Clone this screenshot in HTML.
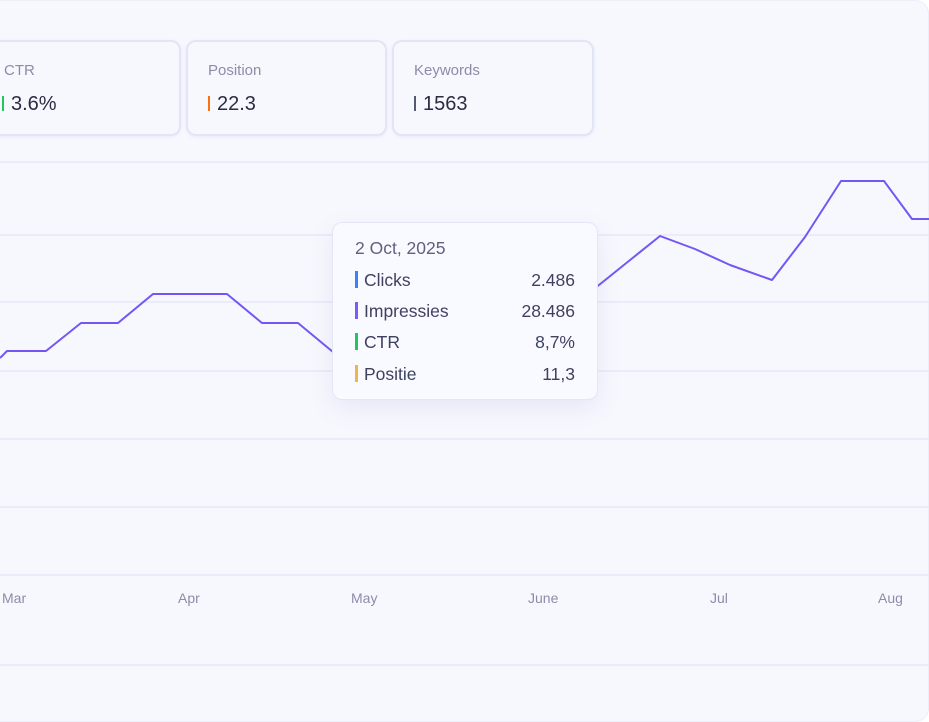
<!DOCTYPE html>
<html><head><meta charset="utf-8"><style>
body{margin:0;width:929px;height:722px;overflow:hidden;background:#fff;font-family:"Liberation Sans",sans-serif}
.wrap{position:absolute;left:0;top:0;width:929px;height:722px;background:#f7f8fe;border-radius:0 14px 14px 0;box-shadow:inset 0 1px 0 #eceef8,inset -1px 0 0 #eceef8,inset 0 -1px 0 #eceef8}
.card{position:absolute;top:40px;height:92px;background:#f7f8fe;border:2px solid #e2e5f8;border-radius:10px;box-shadow:0 1px 3px rgba(120,130,200,.12)}
.lab{position:absolute;top:20px;font-size:15px;color:#8a8da8}
.val{position:absolute;top:51px;font-size:20px;color:#2a2c44}
.bar{display:inline-block;width:2px;height:15px;margin-right:7px;vertical-align:-1px}
.tip{position:absolute;left:332px;top:222px;width:264px;height:176px;background:#f9faff;border:1px solid #e3e6f6;border-radius:10px;box-shadow:0 8px 24px rgba(110,110,180,.12)}
.row{position:absolute;left:22px;right:22px;font-size:17.5px;color:#3e4160}
.row span.r{position:absolute;right:0}
.tb{display:inline-block;width:3px;height:17px;margin-right:6px;vertical-align:-2px}
.ax{position:absolute;top:590px;font-size:14px;color:#8a8da8}
</style></head><body>
<div class="wrap">
<svg width="929" height="722" style="position:absolute;left:0;top:0">
<g stroke="#e6e8f7" stroke-width="1.5">
<line x1="0" y1="162" x2="929" y2="162"/><line x1="0" y1="235" x2="929" y2="235"/>
<line x1="0" y1="302" x2="929" y2="302"/><line x1="0" y1="371" x2="929" y2="371"/>
<line x1="0" y1="439" x2="929" y2="439"/><line x1="0" y1="507" x2="929" y2="507"/>
<line x1="0" y1="575" x2="929" y2="575"/><line x1="0" y1="665" x2="929" y2="665"/>
</g>
<polyline fill="none" stroke="#7556f5" stroke-width="2" stroke-linejoin="round" points="0,358 7,351 46,351 81,323 118,323 153,294 227,294 262,323 298,323 333,352 400,360 470,350 540,330 599,285 660,236 695,249 730,265 772,280 805,237 841,181 884,181 912,219 929,219"/>
</svg>
<div class="card" style="left:-12px;width:189px"><div class="lab" style="left:14px">CTR</div><div class="val" style="left:12px"><span class="bar" style="background:#22c55e"></span>3.6%</div></div>
<div class="card" style="left:186px;width:197px"><div class="lab" style="left:20px">Position</div><div class="val" style="left:20px"><span class="bar" style="background:#f97316"></span>22.3</div></div>
<div class="card" style="left:392px;width:198px"><div class="lab" style="left:20px">Keywords</div><div class="val" style="left:20px"><span class="bar" style="background:#555a70"></span>1563</div></div>
<div class="tip">
<div class="row" style="top:15px;color:#5e6180">2 Oct, 2025</div>
<div class="row" style="top:47px"><span class="tb" style="background:#3b82f6"></span>Clicks<span class="r">2.486</span></div>
<div class="row" style="top:78px"><span class="tb" style="background:#7c5cf6"></span>Impressies<span class="r">28.486</span></div>
<div class="row" style="top:109px"><span class="tb" style="background:#22c55e"></span>CTR<span class="r">8,7%</span></div>
<div class="row" style="top:141px"><span class="tb" style="background:#f0b54a"></span>Positie<span class="r">11,3</span></div>
</div>
<div class="ax" style="left:2px">Mar</div><div class="ax" style="left:178px">Apr</div>
<div class="ax" style="left:351px">May</div><div class="ax" style="left:528px">June</div>
<div class="ax" style="left:710px">Jul</div><div class="ax" style="left:878px">Aug</div>
</div>
</body></html>
